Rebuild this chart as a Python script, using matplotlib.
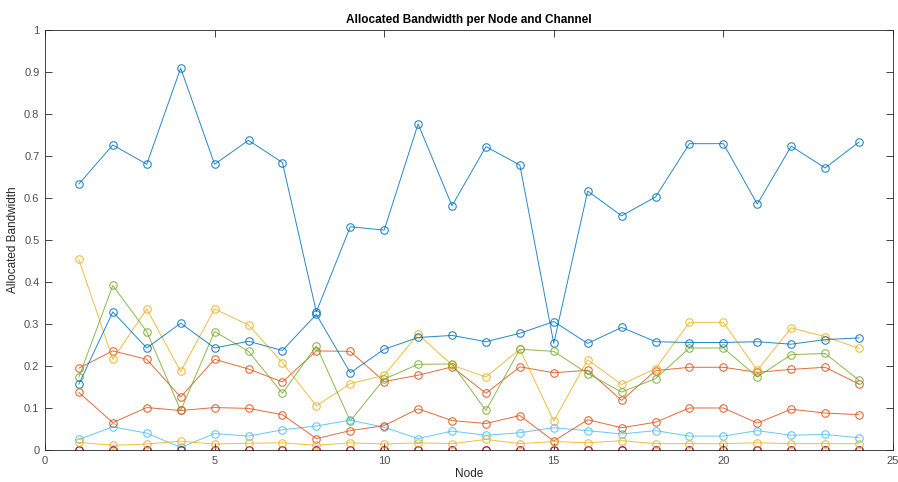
import matplotlib
matplotlib.use("Agg")
import matplotlib.pyplot as plt
import numpy as np

nodes = list(range(1, 25))

ch1 = [0.633, 0.726, 0.680, 0.909, 0.680, 0.737, 0.684, 0.328, 0.531, 0.523, 0.776, 0.581,
       0.722, 0.678, 0.253, 0.616, 0.557, 0.602, 0.729, 0.729, 0.585, 0.723, 0.671, 0.733]
ch2 = [0.194, 0.235, 0.215, 0.125, 0.215, 0.192, 0.161, 0.235, 0.234, 0.162, 0.177, 0.197,
       0.134, 0.197, 0.183, 0.189, 0.117, 0.188, 0.196, 0.196, 0.184, 0.191, 0.196, 0.156]
ch3 = [0.453, 0.215, 0.335, 0.186, 0.335, 0.297, 0.207, 0.104, 0.157, 0.177, 0.275, 0.201,
       0.173, 0.239, 0.068, 0.214, 0.155, 0.193, 0.303, 0.303, 0.189, 0.290, 0.269, 0.241]
ch4 = [0.0] * 24
ch5 = [0.173, 0.391, 0.281, 0.093, 0.281, 0.234, 0.134, 0.247, 0.068, 0.168, 0.203, 0.204,
       0.093, 0.239, 0.234, 0.181, 0.137, 0.169, 0.242, 0.242, 0.173, 0.226, 0.229, 0.165]
ch6 = [0.024, 0.054, 0.039, 0.005, 0.038, 0.032, 0.047, 0.056, 0.070, 0.053, 0.026, 0.044,
       0.034, 0.040, 0.052, 0.045, 0.037, 0.045, 0.032, 0.032, 0.045, 0.034, 0.036, 0.028]
ch7 = [0.0] * 24
ch8 = [0.156, 0.328, 0.242, 0.301, 0.242, 0.258, 0.236, 0.322, 0.183, 0.239, 0.267, 0.272,
       0.257, 0.277, 0.305, 0.253, 0.291, 0.257, 0.255, 0.255, 0.257, 0.251, 0.262, 0.266]
ch9 = [0.136, 0.064, 0.100, 0.093, 0.100, 0.098, 0.083, 0.026, 0.045, 0.057, 0.097, 0.069,
       0.062, 0.081, 0.020, 0.071, 0.052, 0.065, 0.099, 0.099, 0.063, 0.096, 0.087, 0.083]
ch10 = [0.017, 0.010, 0.013, 0.020, 0.013, 0.015, 0.016, 0.010, 0.016, 0.013, 0.016, 0.014,
        0.024, 0.014, 0.019, 0.016, 0.021, 0.014, 0.014, 0.014, 0.016, 0.014, 0.014, 0.014]

channels = [ch1, ch2, ch3, ch4, ch5, ch6, ch7, ch8, ch9, ch10]

colors = [
    (0.000, 0.447, 0.741),
    (0.850, 0.325, 0.098),
    (0.929, 0.694, 0.125),
    (0.494, 0.184, 0.556),
    (0.466, 0.674, 0.188),
    (0.301, 0.745, 0.933),
    (0.635, 0.078, 0.184),
]

plt.rcParams['font.family'] = ['Liberation Sans', 'DejaVu Sans']

fig = plt.figure(figsize=(8.98, 4.82), dpi=100)
ax = fig.add_axes([0.0501, 0.0674, 0.9443, 0.8704])

for i, vals in enumerate(channels):
    ax.plot(nodes, vals, color=colors[i % len(colors)], linewidth=0.7, alpha=0.85,
            marker='o', markersize=5.4, markerfacecolor='none',
            markeredgewidth=0.8)

ax.set_xlim(0, 25)
ax.set_ylim(0, 1)
ax.set_xticks(range(0, 26, 5))
ax.set_yticks(np.arange(0, 1.01, 0.1))
ax.set_yticklabels(['0', '0.1', '0.2', '0.3', '0.4', '0.5', '0.6', '0.7', '0.8', '0.9', '1'])

axis_gray = (0.15, 0.15, 0.15)
for side in ax.spines.values():
    side.set_color(axis_gray)
    side.set_linewidth(0.6)
ax.tick_params(direction='in', length=5, width=0.6, top=True, right=True,
               colors=axis_gray, labelsize=8, labelcolor=(0.3, 0.3, 0.3))
ax.tick_params(axis='x', pad=5)
ax.tick_params(axis='y', pad=4)

ax.set_xlabel('Node', fontsize=8.5, color=axis_gray, labelpad=1)
ax.set_ylabel('Allocated Bandwidth', fontsize=8.5, color=axis_gray, labelpad=4)
ax.set_title('Allocated Bandwidth per Node and Channel', fontsize=8.5,
             fontweight='bold', color='black', pad=5)

fig.savefig('out.png', dpi=100)
